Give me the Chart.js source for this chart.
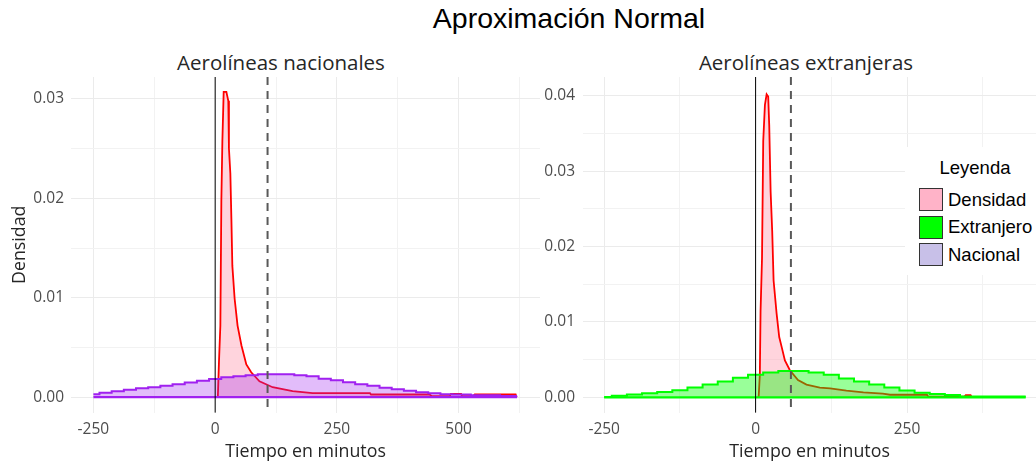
<!DOCTYPE html>
<html>
<head>
<meta charset="utf-8">
<script src="https://cdn.jsdelivr.net/npm/chart.js@4.4.1/dist/chart.umd.min.js"></script>
<style>
  body { margin: 0; width: 1036px; height: 465px; overflow: hidden; background: #fff; position: relative; }
  canvas { position: absolute; top: 0; }
  .titulo { position: absolute; text-align: center; white-space: nowrap; }
  #titulo { left: 369px; width: 400px; top: 4px; font: 28.5px/28px 'Liberation Sans', Arial, sans-serif; color: #000; }
  .sub { width: 300px; top: 50px; font: 20.5px/24px 'Open Sans', sans-serif; color: #262626; }
  #leyenda { position: absolute; left: 905px; top: 147px; width: 131px; height: 128px; background: #fff; font: 18.5px/22px 'Liberation Sans', Arial, sans-serif; color: #000; }
  #leyenda .ley-tit { position: absolute; left: 0; width: 140px; top: 10px; text-align: center; }
  #leyenda .caja { position: absolute; left: 14px; width: 24px; height: 23px; box-sizing: border-box; border: 1.2px solid #333; }
  #leyenda .txt { position: absolute; left: 43px; white-space: nowrap; }
</style>
</head>
<body>
<div id="titulo" class="titulo">Aproximación Normal</div>
<div class="titulo sub" style="left:131px">Aerolíneas nacionales</div>
<div class="titulo sub" style="left:656px">Aerolíneas extranjeras</div>
<canvas id="graphNac" width="540" height="465" style="left:0"></canvas>
<canvas id="graphExt" width="496" height="465" style="left:540px"></canvas>
<div id="leyenda"></div>

<script>
/* Datos: densidad observada y aproximación normal (minutos, densidad) */
// Aerolíneas nacionales
var nacDensX = [5.5, 7.8, 10.7, 12.7, 14.8, 17.5, 23, 27, 28.3, 31.2, 33.3, 35.3, 40, 46, 54, 64, 74, 91, 118, 159, 200, 318, 320, 440, 445, 482, 484, 505, 507, 530, 533, 617, 619];
var nacDensY = [0, 0.0035, 0.0072, 0.0197, 0.0257, 0.0307, 0.0307, 0.0298, 0.025, 0.0225, 0.018, 0.0132, 0.0099, 0.0072, 0.0052, 0.0033, 0.0025, 0.0016, 0.001, 0.0006, 0.0004, 0.0004, 0.00027, 0.00027, 0.0001, 0.0001, 0.00033, 0.00033, 0.0001, 0.0001, 0.00027, 0.00027, 0];
var nacNormX = [-250, -225, -200, -175, -150, -125, -100, -75, -50, -25, 0, 25, 50, 75, 100, 125, 150, 175, 200, 225, 250, 275, 300, 325, 350, 375, 400, 425, 450, 475, 500, 550, 620];
var nacNormY = [0.0003, 0.00045, 0.0006, 0.00075, 0.0009, 0.001, 0.00115, 0.0013, 0.00148, 0.00165, 0.00184, 0.002, 0.0021, 0.0022, 0.0023, 0.0023, 0.0023, 0.0022, 0.0021, 0.00185, 0.0017, 0.0015, 0.0013, 0.00115, 0.00095, 0.0008, 0.00065, 0.0005, 0.0004, 0.0003, 0.00026, 0.0002, 0.00013];
var mediaNac = 107.6;

// Aerolíneas extranjeras
var extDensX = [5, 7, 8.2, 10.6, 12.6, 15.4, 18.2, 20.8, 22.5, 24.8, 27.4, 29.7, 34.7, 39, 43, 48.4, 56.6, 70, 84, 106, 123, 150, 178, 210, 222, 283, 285, 345, 347, 355, 357];
var extDensY = [0, 0.003, 0.0115, 0.0185, 0.034, 0.0388, 0.0402, 0.0399, 0.0361, 0.0273, 0.0221, 0.0155, 0.0111, 0.008, 0.0067, 0.0049, 0.0036, 0.0023, 0.0017, 0.0013, 0.0012, 0.0009, 0.00066, 0.0005, 0.00035, 0.00035, 0.0001, 0.0001, 0.0003, 0.0003, 0];
var extNormX = [-250, -225, -200, -175, -150, -125, -100, -75, -50, -25, 0, 25, 50, 75, 100, 125, 150, 175, 200, 225, 250, 275, 300, 325, 350, 400, 446];
var extNormY = [0.00005, 0.00022, 0.00038, 0.00055, 0.0007, 0.00095, 0.0013, 0.0017, 0.0021, 0.0026, 0.003, 0.0033, 0.0035, 0.0035, 0.0033, 0.003, 0.0025, 0.0021, 0.0017, 0.0013, 0.0009, 0.0006, 0.00045, 0.0003, 0.00012, 0.0001, 0.0001];
var mediaExt = 58.3;

/* Ejes */
var nacXTicks  = [-250, -125, 0, 125, 250, 375, 500, 625];
var nacXLabels = ['-250', '', '0', '', '250', '', '500', ''];
var nacYTicks  = [0, 0.005, 0.01, 0.015, 0.02, 0.025, 0.03];
var nacYLabels = ['0.00', '', '0.01', '', '0.02', '', '0.03'];
var extXTicks  = [-250, -125, 0, 125, 250, 375];
var extXLabels = ['-250', '', '0', '', '250', ''];
var extYTicks  = [0, 0.005, 0.01, 0.015, 0.02, 0.025, 0.03, 0.035, 0.04];
var extYLabels = ['0.00', '', '0.01', '', '0.02', '', '0.03', '', '0.04'];

/* Leyenda */
var leyendaTitulo = 'Leyenda';
var leyendaNombres = ['Densidad', 'Extranjero', 'Nacional'];
var leyendaColores = ['#FFB3C8', '#00FF00', '#C8C0E8'];

Chart.defaults.font.family = "'Open Sans', sans-serif";
Chart.defaults.color = '#4D4D4D';

function puntos(xs, ys) {
  return xs.map(function (x, i) { return { x: x, y: ys[i] }; });
}

// linea negra en cero y linea discontinua en la media
var lineasRef = {
  id: 'lineasRef',
  afterDatasetsDraw: function (chart, args, opts) {
    var ctx = chart.ctx, area = chart.chartArea, sx = chart.scales.x;
    ctx.save();
    var x0 = sx.getPixelForValue(0);
    ctx.strokeStyle = '#000';
    ctx.lineWidth = 1;
    ctx.beginPath(); ctx.moveTo(x0, area.top); ctx.lineTo(x0, area.bottom); ctx.stroke();
    var xm = sx.getPixelForValue(opts.media);
    ctx.strokeStyle = '#595959';
    ctx.lineWidth = 2;
    ctx.setLineDash([8, 6]);
    ctx.beginPath(); ctx.moveTo(xm, area.top); ctx.lineTo(xm, area.bottom); ctx.stroke();
    ctx.restore();
  }
};
Chart.register(lineasRef);

function montaPanel(id, p) {
  var normal = puntos(p.normX, p.normY);
  var base = [{ x: p.normX[0], y: 0 }, { x: p.normX[p.normX.length - 1], y: 0 }];
  return new Chart(document.getElementById(id).getContext('2d'), {
    type: 'line',
    data: {
      datasets: [
        { data: base, borderColor: p.colorLinea, borderWidth: 2.2, pointRadius: 0, fill: false, order: 0 },
        { data: normal, borderColor: p.colorLinea, backgroundColor: p.colorRelleno, borderWidth: 2,
          pointRadius: 0, fill: 'origin', stepped: 'middle', order: 1 },
        { data: puntos(p.densX, p.densY), borderColor: '#FF0000', backgroundColor: 'rgba(255,160,180,0.45)',
          borderWidth: 1.8, pointRadius: 0, fill: 'origin', tension: 0, order: 2 }
      ]
    },
    options: {
      responsive: false,
      animation: false,
      layout: { padding: { top: 77, left: 0, right: 0, bottom: 0 } },
      plugins: {
        legend: { display: false },
        tooltip: { enabled: false },
        lineasRef: { media: p.media }
      },
      scales: {
        x: {
          type: 'linear', min: p.xMin, max: p.xMax,
          afterBuildTicks: function (s) { s.ticks = p.xTicks.map(function (v) { return { value: v }; }); },
          afterFit: function (s) { s.height = 52.4; },
          ticks: { autoSkip: false, maxRotation: 0, padding: 8, font: { size: 15.5 }, color: '#4D4D4D',
                   callback: function (v, i) { return p.xLabels[i]; } },
          grid: { drawTicks: false, lineWidth: 1,
                  color: function (c) { return p.xLabels[c.index] ? '#EBEBEB' : '#F2F2F2'; } },
          border: { display: false },
          title: { display: true, text: 'Tiempo en minutos', color: '#262626', font: { size: 17.8 },
                   padding: { top: 0, bottom: 2.5 } }
        },
        y: {
          min: p.yMin, max: p.yMax,
          afterBuildTicks: function (s) { s.ticks = p.yTicks.map(function (v) { return { value: v }; }); },
          afterFit: function (s) { s.width = p.yAncho; },
          ticks: { padding: p.yPad, font: { size: 15.5 }, color: '#4D4D4D',
                   callback: function (v, i) { return p.yLabels[i]; } },
          grid: { drawTicks: false, lineWidth: 1,
                  color: function (c) { return p.yLabels[c.index] ? '#EBEBEB' : '#F2F2F2'; } },
          border: { display: false },
          title: { display: p.yTitulo !== '', text: p.yTitulo, color: '#262626', font: { size: 17.8 },
                   padding: { top: 9, bottom: 0 } }
        }
      }
    }
  });
}

montaPanel('graphNac', {
  densX: nacDensX, densY: nacDensY, normX: nacNormX, normY: nacNormY, media: mediaNac,
  colorLinea: '#A020F0', colorRelleno: 'rgba(160,32,240,0.3)',
  xMin: -296, xMax: 667, xTicks: nacXTicks, xLabels: nacXLabels,
  yMin: -0.00155, yMax: 0.0322, yTicks: nacYTicks, yLabels: nacYLabels,
  yAncho: 71, yPad: 7, yTitulo: 'Densidad'
});

montaPanel('graphExt', {
  densX: extDensX, densY: extDensY, normX: extNormX, normY: extNormY, media: mediaExt,
  colorLinea: '#00FF00', colorRelleno: 'rgba(0,255,0,0.4)',
  xMin: -285, xMax: 463, xTicks: extXTicks, xLabels: extXLabels,
  yMin: -0.00202, yMax: 0.0425, yTicks: extYTicks, yLabels: extYLabels,
  yAncho: 43, yPad: 8, yTitulo: ''
});

/* Leyenda (HTML encima del panel derecho) */
var ley = document.getElementById('leyenda');
var h = '<div class="ley-tit">' + leyendaTitulo + '</div>';
for (var i = 0; i < leyendaNombres.length; i++) {
  var posY = 41 + i * 27.7;
  h += '<div class="caja" style="top:' + posY + 'px;background:' + leyendaColores[i] + '"></div>';
  h += '<div class="txt" style="top:' + (posY + 0.5) + 'px">' + leyendaNombres[i] + '</div>';
}
ley.innerHTML = h;
</script>
</body>
</html>
